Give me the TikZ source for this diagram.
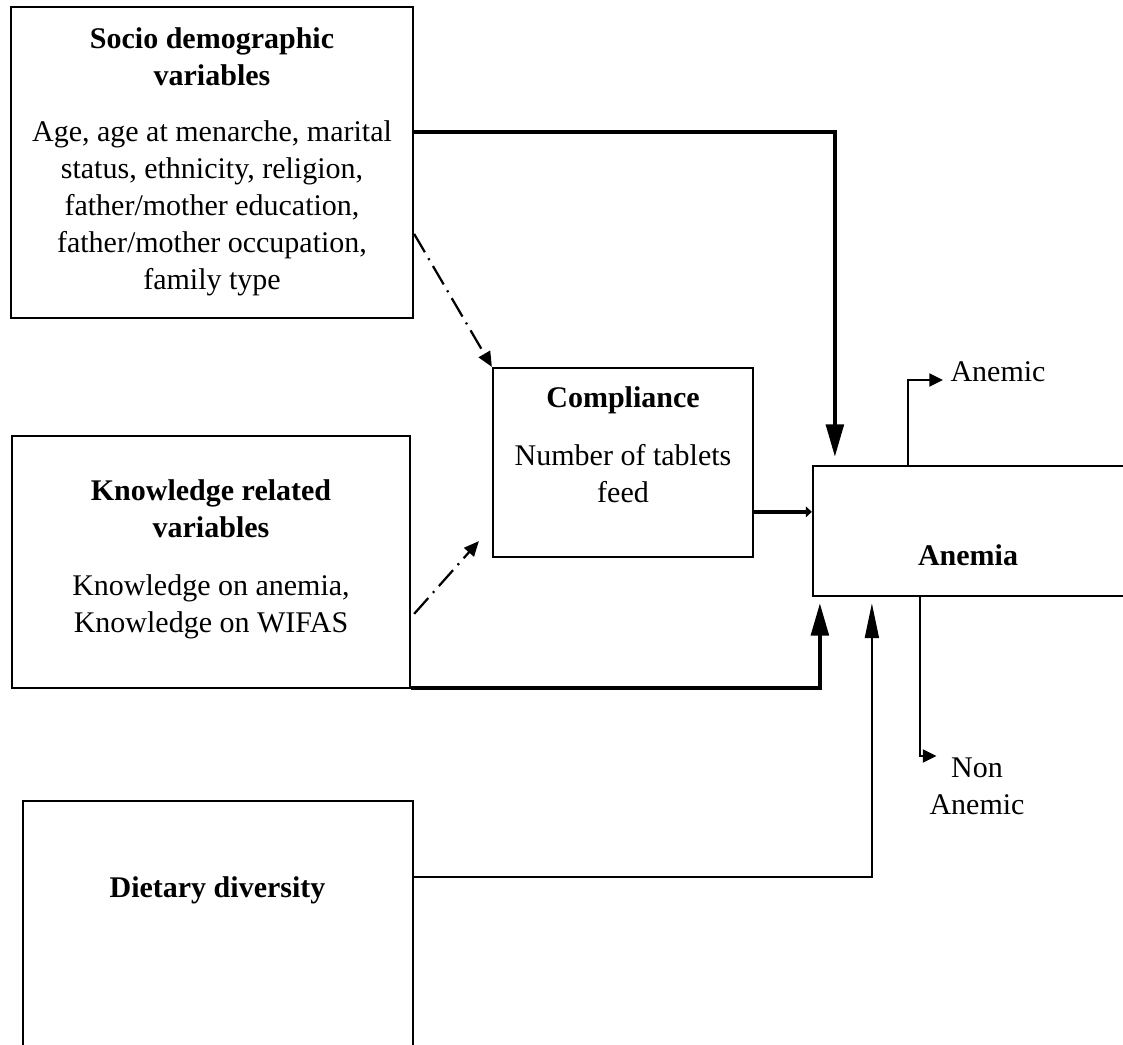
\documentclass[tikz,border=0pt]{standalone}
\usepackage{fontspec}
\setmainfont{Liberation Serif}
\usetikzlibrary{arrows.meta,calc,fit}
\begin{document}
\begin{tikzpicture}[x=0.4pt,y=-0.4pt,
  box/.style={draw,line width=0.9pt,inner sep=0pt},
  txt/.style={align=center,inner sep=0pt,font=\fontsize{12}{14.8}\selectfont},
  hd/.style={align=center,inner sep=0pt,font=\fontsize{12}{14.8}\selectfont\bfseries},
  thk/.style={line width=1.6pt,-{Triangle[length=13pt,width=7pt]}},
  med/.style={line width=1.05pt,-{Triangle[length=14pt,width=5.5pt]}},
  sml/.style={line width=1.6pt,-{Triangle[length=2.4pt,width=4.2pt]}},
  dd/.style={line width=0.9pt,dash pattern=on 8.5pt off 2.8pt on 0.8pt off 2.8pt,-{Triangle[length=6pt,width=5.2pt]}},
  outarr/.style={line width=0.9pt,-{Triangle[length=5.5pt,width=5.2pt]}}
]
\useasboundingbox (0,0) rectangle (1123,1044);
\clip (0,0) rectangle (1123,1044);

% boxes
\node[box,fit={(11,7) (413,318)}] (socio) {};
\node[box,fit={(12,436) (410,688)}] (know) {};
\node[box,fit={(23,801) (413,1050)}] (diet) {};
\node[box,fit={(493,368) (753,557)}] (comp) {};
\node[box,fit={(813,466) (1140,596)}] (anemia) {};

% texts
\node[hd,anchor=north] (socioT) at (212,27) {Socio demographic\\variables};
\node[txt,anchor=north] (socioB) at (212,120) {Age, age at menarche, marital\\status, ethnicity, religion,\\father/mother education,\\father/mother occupation,\\family type};
\node[hd,anchor=north] (knowT) at (211,479) {Knowledge related\\variables};
\node[txt,anchor=north] (knowB) at (211,574) {Knowledge on anemia,\\Knowledge on WIFAS};
\node[hd,anchor=base] (compT) at (623,408) {Compliance};
\node[txt,anchor=north] (compB) at (623,444) {Number of tablets\\feed};
\node[hd,anchor=base] (anemiaT) at (968,565) {Anemia};
\node[hd,anchor=base] (dietT) at (217.5,897) {Dietary diversity};
\node[txt,anchor=base west] (anemic) at (950,382) {Anemic};
\node[txt,anchor=north] (nonanem) at (977,757) {Non\\Anemic};

% connectors
\draw[thk] ($(socio.north east)+(0,126)$) -| ($(anemia.north west)+(23,-8)$);
\draw[dd] ($(socio.north east)+(0,228)$) -- (comp.north west);
\draw[dd] ($(know.north east)+(3,179)$) -- ($(comp.south west)+(-13,-17)$);
\draw[sml] ($(comp.north east)+(0,145)$) -- ($(anemia.north west)+(0,47)$);
\draw[thk] ($(know.south east)+(0,-1)$) -| ($(anemia.south west)+(8,6)$);
\draw[med] ($(diet.north east)+(0,77)$) -| ($(anemia.south west)+(60,6)$);
\draw[outarr] ($(anemia.north west)+(96,0)$) |- ($(anemic.base west)+(-7,-2)$);
\draw[outarr] ($(anemia.south west)+(108,0)$) |- ($(nonanem.north west)+(7.5,-1)$);
\end{tikzpicture}
\end{document}
